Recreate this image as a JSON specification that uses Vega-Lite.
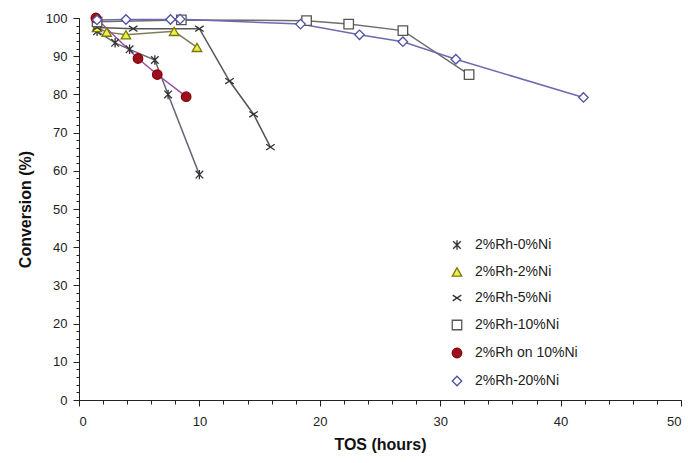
{
  "$schema": "https://vega.github.io/schema/vega-lite/v6.json",
  "width": 602,
  "height": 382,
  "padding": {"left": 17, "top": 10, "right": 5, "bottom": 5},
  "background": "white",
  "config": {
    "view": {"stroke": null},
    "font": "Liberation Sans",
    "axis": {"grid": false, "domainColor": "#222", "tickColor": "#222", "labelColor": "#222", "labelFont": "Liberation Sans", "labelFontSize": 13, "titleFont": "Liberation Sans", "titleFontSize": 16, "titleFontWeight": "bold", "titleColor": "#111"},
    "legend": {"labelFont": "Liberation Sans", "labelFontSize": 14, "labelColor": "#222", "rowPadding": 12, "symbolSize": 90, "symbolStrokeWidth": 1.3, "labelOffset": 11}
  },
  "data": {"values": [
    {"s": "2%Rh-0%Ni", "x": 1.5, "y": 96.5},
    {"s": "2%Rh-0%Ni", "x": 3.0, "y": 93.5},
    {"s": "2%Rh-0%Ni", "x": 4.2, "y": 91.8},
    {"s": "2%Rh-0%Ni", "x": 6.3, "y": 89},
    {"s": "2%Rh-0%Ni", "x": 7.4, "y": 80},
    {"s": "2%Rh-0%Ni", "x": 10, "y": 59},
    {"s": "2%Rh-2%Ni", "x": 1.5, "y": 97.5},
    {"s": "2%Rh-2%Ni", "x": 2.3, "y": 96.3},
    {"s": "2%Rh-2%Ni", "x": 3.9, "y": 95.6},
    {"s": "2%Rh-2%Ni", "x": 7.9, "y": 96.5},
    {"s": "2%Rh-2%Ni", "x": 9.8, "y": 92.3},
    {"s": "2%Rh-5%Ni", "x": 1.5, "y": 97.5},
    {"s": "2%Rh-5%Ni", "x": 4.5, "y": 97.2},
    {"s": "2%Rh-5%Ni", "x": 10, "y": 97.2},
    {"s": "2%Rh-5%Ni", "x": 12.5, "y": 83.5},
    {"s": "2%Rh-5%Ni", "x": 14.5, "y": 74.8},
    {"s": "2%Rh-5%Ni", "x": 15.9, "y": 66.2},
    {"s": "2%Rh-10%Ni", "x": 1.5, "y": 99},
    {"s": "2%Rh-10%Ni", "x": 8.5, "y": 99.5},
    {"s": "2%Rh-10%Ni", "x": 18.9, "y": 99.3},
    {"s": "2%Rh-10%Ni", "x": 22.4, "y": 98.4},
    {"s": "2%Rh-10%Ni", "x": 26.9, "y": 96.7},
    {"s": "2%Rh-10%Ni", "x": 32.4, "y": 85.2},
    {"s": "2%Rh on 10%Ni", "x": 1.4, "y": 100},
    {"s": "2%Rh on 10%Ni", "x": 4.9, "y": 89.4},
    {"s": "2%Rh on 10%Ni", "x": 6.5, "y": 85.2},
    {"s": "2%Rh on 10%Ni", "x": 8.9, "y": 79.4},
    {"s": "2%Rh-20%Ni", "x": 1.5, "y": 99.5},
    {"s": "2%Rh-20%Ni", "x": 3.9, "y": 99.6},
    {"s": "2%Rh-20%Ni", "x": 7.6, "y": 99.6},
    {"s": "2%Rh-20%Ni", "x": 8.4, "y": 99.7},
    {"s": "2%Rh-20%Ni", "x": 18.4, "y": 98.4},
    {"s": "2%Rh-20%Ni", "x": 23.3, "y": 95.6},
    {"s": "2%Rh-20%Ni", "x": 26.9, "y": 93.8},
    {"s": "2%Rh-20%Ni", "x": 31.3, "y": 89.2},
    {"s": "2%Rh-20%Ni", "x": 41.9, "y": 79.2}
  ]},
  "resolve": {"axis": {"x": "independent", "y": "independent"}},
  "layer": [
    {
      "mark": {"type": "point", "opacity": 0},
      "encoding": {
        "x": {"field": "x", "type": "quantitative", "scale": {"domain": [0, 50], "nice": false}, "axis": {"orient": "bottom", "values": [0,2,4,6,8,10,12,14,16,18,20,22,24,26,28,30,32,34,36,38,40,42,44,46,48,50], "labels": false, "domain": false, "tickSize": 4, "title": null}},
        "y": {"field": "y", "type": "quantitative", "scale": {"domain": [0, 100], "nice": false}, "axis": {"orient": "left", "values": [0,2,4,6,8,10,12,14,16,18,20,22,24,26,28,30,32,34,36,38,40,42,44,46,48,50,52,54,56,58,60,62,64,66,68,70,72,74,76,78,80,82,84,86,88,90,92,94,96,98,100], "labels": false, "domain": false, "tickSize": 3, "title": null}}
      }
    },
    {
      "transform": [{"filter": "datum.s == '2%Rh-0%Ni'"}],
      "mark": {"type": "line", "strokeWidth": 1.5, "color": "#6a6478"},
      "encoding": {
        "x": {"field": "x", "type": "quantitative", "scale": {"domain": [0, 50], "nice": false}, "axis": {"orient": "bottom", "values": [0,10,20,30,40,50], "tickSize": 6, "labelPadding": 9, "title": "TOS (hours)", "titlePadding": 8}},
        "y": {"field": "y", "type": "quantitative", "scale": {"domain": [0, 100], "nice": false}, "axis": {"orient": "left", "values": [0,10,20,30,40,50,60,70,80,90,100], "tickSize": 6, "labelPadding": 6, "title": "Conversion (%)", "titlePadding": 12}}
      }
    },
    {
      "transform": [{"filter": "datum.s == '2%Rh-2%Ni'"}],
      "mark": {"type": "line", "strokeWidth": 1.5, "color": "#7d7d5a"},
      "encoding": {
        "x": {"field": "x", "type": "quantitative", "axis": null},
        "y": {"field": "y", "type": "quantitative", "axis": null}
      }
    },
    {
      "transform": [{"filter": "datum.s == '2%Rh-5%Ni'"}],
      "mark": {"type": "line", "strokeWidth": 1.5, "color": "#555555"},
      "encoding": {
        "x": {"field": "x", "type": "quantitative", "axis": null},
        "y": {"field": "y", "type": "quantitative", "axis": null}
      }
    },
    {
      "transform": [{"filter": "datum.s == '2%Rh-10%Ni'"}],
      "mark": {"type": "line", "strokeWidth": 1.5, "color": "#6e6e6e"},
      "encoding": {
        "x": {"field": "x", "type": "quantitative", "axis": null},
        "y": {"field": "y", "type": "quantitative", "axis": null}
      }
    },
    {
      "transform": [{"filter": "datum.s == '2%Rh on 10%Ni'"}],
      "mark": {"type": "line", "strokeWidth": 1.5, "color": "#9a4f9a"},
      "encoding": {
        "x": {"field": "x", "type": "quantitative", "axis": null},
        "y": {"field": "y", "type": "quantitative", "axis": null}
      }
    },
    {
      "transform": [{"filter": "datum.s == '2%Rh-20%Ni'"}],
      "mark": {"type": "line", "strokeWidth": 1.5, "color": "#6b6bb0"},
      "encoding": {
        "x": {"field": "x", "type": "quantitative", "axis": null},
        "y": {"field": "y", "type": "quantitative", "axis": null}
      }
    },
    {
      "mark": {"type": "point", "filled": false, "strokeWidth": 1.3, "opacity": 1},
      "encoding": {
        "x": {"field": "x", "type": "quantitative", "scale": {"domain": [0, 50], "nice": false}, "axis": null},
        "y": {"field": "y", "type": "quantitative", "scale": {"domain": [0, 100], "nice": false}, "axis": null},
        "stroke": {"field": "s", "type": "nominal", "title": null, "legend": {"orient": "none", "legendX": 371, "legendY": 220}, "scale": {"domain": ["2%Rh-0%Ni", "2%Rh-2%Ni", "2%Rh-5%Ni", "2%Rh-10%Ni", "2%Rh on 10%Ni", "2%Rh-20%Ni"], "range": ["#333333", "#7a7a00", "#333333", "#555555", "#8b0000", "#5050a0"]}},
        "fill": {"field": "s", "type": "nominal", "title": null, "legend": {"orient": "none", "legendX": 371, "legendY": 220}, "scale": {"domain": ["2%Rh-0%Ni", "2%Rh-2%Ni", "2%Rh-5%Ni", "2%Rh-10%Ni", "2%Rh on 10%Ni", "2%Rh-20%Ni"], "range": ["transparent", "#eeee55", "transparent", "white", "#9b1020", "white"]}},
        "shape": {"field": "s", "type": "nominal", "title": null, "legend": {"orient": "none", "legendX": 371, "legendY": 220}, "scale": {"domain": ["2%Rh-0%Ni", "2%Rh-2%Ni", "2%Rh-5%Ni", "2%Rh-10%Ni", "2%Rh on 10%Ni", "2%Rh-20%Ni"], "range": ["M-0.8,-0.8L0.8,0.8M-0.8,0.8L0.8,-0.8M0,-1L0,1", "triangle-up", "M-0.9,-0.6L0.9,0.6M-0.9,0.6L0.9,-0.6", "square", "circle", "diamond"]}},
        "size": {"value": 90}
      }
    }
  ],
  "encoding": {},
  "usermeta": {}
}
